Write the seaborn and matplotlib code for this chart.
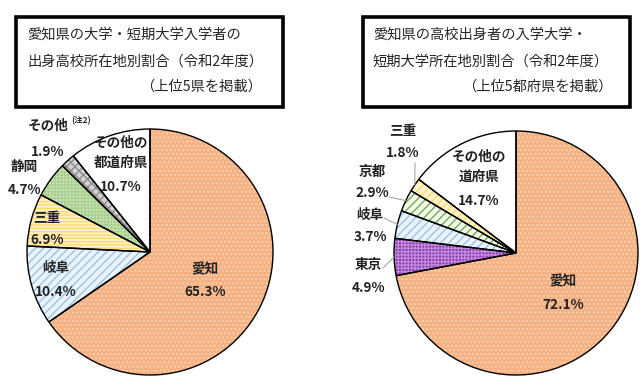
import matplotlib.pyplot as plt
import seaborn as sns
import numpy as np
from matplotlib.patches import Rectangle

# data
left_names = ['愛知', '岐阜', '三重', '静岡', 'その他', 'その他の\n都道府県']
left_values = [65.3, 10.4, 6.9, 4.7, 1.9, 10.7]
left_title = ['愛知県の大学・短期大学入学者の', '出身高校所在地別割合（令和2年度）', '（上位5県を掲載）']

right_names = ['愛知', '東京', '岐阜', '京都', '三重', 'その他の\n道府県']
right_values = [72.1, 4.9, 3.7, 2.9, 1.8, 14.7]
right_title = ['愛知県の高校出身者の入学大学・', '短期大学所在地別割合（令和2年度）', '（上位5都府県を掲載）']

# styles: (face, hatch, hatch colour)
left_styles = [('#F4B183', '....', '#FAD2AE'), ('#EAF2FA', '////', '#9DC3E6'),
               ('#FFF2CC', '-----', '#FFD966'), ('#CFE3C1', '+++++', '#A9D18E'),
               ('#D4D4D4', 'xxxx', '#8C8C8C'), ('white', '', 'white')]
right_styles = [('#F4B183', '....', '#FAD2AE'), ('#8A36B2', '+++++', '#C08ADB'),
                ('#EAF2FA', '////', '#9DC3E6'), ('#F4FAF0', '////', '#70AD47'),
                ('#FFF2CC', '////', '#FFD966'), ('white', '', 'white')]

# label layout in pixels (x, y of name, y of percent), y measured from top
left_pos = [(205, 269, 292), (56, 268, 292), (47, 218, 240), (24, 167, 190),
            (48, 126, 152), (121, 153, 187)]
right_pos = [(563, 281, 305), (368, 265, 288), (370, 215, 237), (372, 172, 193),
             (403, 131, 153), (479, 167, 201)]
# leader line start points for the small slices on the right
right_leaders = {1: (383, 268), 2: (384, 218), 3: (389, 197), 4: (415, 163)}

W, H = 640, 388
sns.set_theme(style='white')
plt.rcParams['font.family'] = ['Noto Sans CJK JP', 'DejaVu Sans']
plt.rcParams['hatch.linewidth'] = 1.0

fig = plt.figure(figsize=(6.4, 3.88), dpi=100)
ax = fig.add_axes([0, 0, 1, 1])


def draw_pie(values, styles, center, radius):
    cx, cy = center[0], H - center[1]
    kw = dict(startangle=90, counterclock=False, center=(cx, cy), radius=radius)
    faces = [s[0] for s in styles]
    ax.pie(values, colors=faces, wedgeprops=dict(linewidth=0), **kw)
    w2, _ = ax.pie(values, colors=['none'] * len(values),
                   hatch=[s[1] for s in styles], **kw)
    for w, s in zip(w2, styles):
        w.set_facecolor('none')
        w.set_edgecolor(s[2])
        w.set_linewidth(0)
    w3, _ = ax.pie(values, colors=['none'] * len(values),
                   wedgeprops=dict(edgecolor='black', linewidth=1.0, facecolor='none'), **kw)
    return w3


def draw_labels(names, values, pos):
    for n, v, (x, yn, yp) in zip(names, values, pos):
        ax.text(x, H - yn, n, ha='center', va='center', fontsize=9.8,
                fontweight='bold', linespacing=1.5, color='#222222')
        ax.text(x, H - yp, f'{v:.1f}%', ha='center', va='center', fontsize=9.8,
                fontweight='bold', color='#222222')


def draw_title(lines, box, x_left, x_right):
    x0, y0, x1, y1 = box
    ax.add_patch(Rectangle((x0, H - y1), x1 - x0, y1 - y0, facecolor='white',
                           edgecolor='black', linewidth=2.6, zorder=4))
    ax.text(x_left, H - 35, lines[0], ha='left', va='center', fontsize=10.3, zorder=5)
    ax.text(x_left, H - 62, lines[1], ha='left', va='center', fontsize=10.3, zorder=5)
    ax.text(x_right, H - 87, lines[2], ha='right', va='center', fontsize=10.3, zorder=5)


draw_pie(left_values, left_styles, (150, 252), 123)
rw = draw_pie(right_values, right_styles, (516, 253), 122)
draw_labels(left_names, left_values, left_pos)
draw_labels(right_names, right_values, right_pos)
ax.text(71, H - 121, '(注2)', ha='left', va='center', fontsize=6, fontweight='bold')

for i, (sx, sy) in right_leaders.items():
    w = rw[i]
    ang = np.deg2rad((w.theta1 + w.theta2) / 2)
    ex = w.center[0] + w.r * np.cos(ang)
    ey = w.center[1] + w.r * np.sin(ang)
    ax.annotate('', xy=(ex, ey), xytext=(sx, H - sy),
                arrowprops=dict(arrowstyle='-', color='#A6A6A6', lw=0.8,
                                shrinkA=0, shrinkB=0))

draw_title(left_title, (16, 17, 283, 107), 27, 262)
draw_title(right_title, (363, 17, 630, 107), 373, 612)

ax.set_xlim(0, W)
ax.set_ylim(0, H)
ax.set_aspect('auto')
ax.axis('off')
fig.savefig('out.png', dpi=100)
